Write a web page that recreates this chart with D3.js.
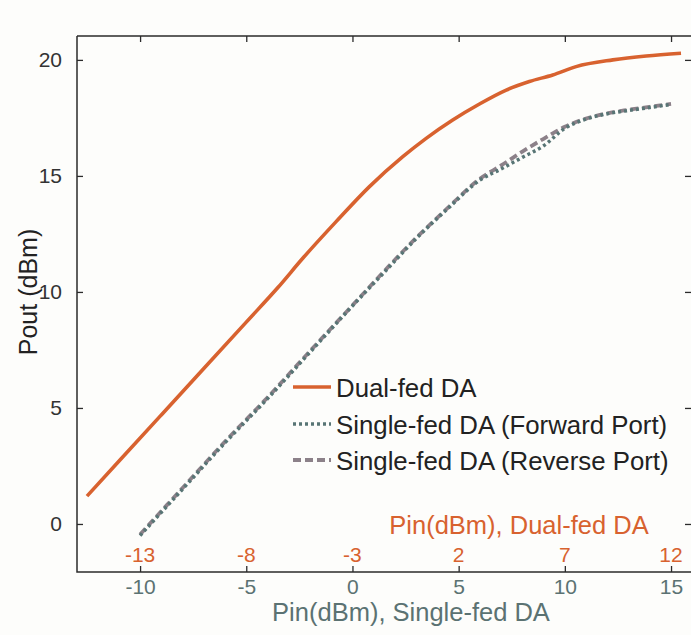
<!DOCTYPE html>
<html>
<head>
<meta charset="utf-8">
<script src="https://cdn.jsdelivr.net/npm/d3@7"></script>
<style>
  body { margin: 0; background: #fdfdfb; }
  text { font-family: "Liberation Sans", Arial, Helvetica, sans-serif; }
</style>
</head>
<body>
<div id="chart"></div>
<script>
// Pin of the dual-fed DA (top orange axis) and its Pout
const dualPin  = [-15.5, -14, -12, -10, -8, -6.5, -5.34, -3.77, -2.2, -0.63, 0.47, 1.72, 2.98, 4.24, 5.33, 6.43, 7.53, 9.26, 10.83, 12.47];
const dualPout = [1.2, 2.7, 4.7, 6.7, 8.7, 10.2, 11.45, 13.03, 14.54, 15.83, 16.62, 17.41, 18.1, 18.7, 19.07, 19.35, 19.71, 20.0, 20.17, 20.29];

// Pin of the single-fed DA (bottom axis)
const singlePin   = [-10, -8, -6, -4, -2, 0, 1.5, 3, 4.5, 6, 7, 8, 9, 10, 11, 12, 13, 14, 15];
const forwardPout = [-0.5, 1.5, 3.5, 5.4, 7.4, 9.4, 10.85, 12.3, 13.6, 14.82, 15.3, 15.8, 16.3, 17.05, 17.45, 17.68, 17.82, 17.95, 18.08];
const reversePout = [-0.45, 1.55, 3.55, 5.45, 7.45, 9.42, 10.9, 12.33, 13.63, 14.88, 15.45, 16.05, 16.6, 17.12, 17.47, 17.7, 17.85, 17.98, 18.1];

const singleTicks = [-10, -5, 0, 5, 10, 15];
const dualTicks   = [-13, -8, -3, 2, 7, 12];
const yTicks      = [0, 5, 10, 15, 20];

const legendNames = ["Dual-fed DA", "Single-fed DA (Forward Port)", "Single-fed DA (Reverse Port)"];

const W = 691, H = 635;
const box = {left: 77, right: 691, top: 36, bottom: 572};

const orange = "#d8622f";
const teal = "#587575";
const mauve = "#8c8189";
const axisCol = "#2b2b2b";

const svg = d3.select("#chart")
  .append("svg")
    .attr("width", W)
    .attr("height", H);

svg.append("rect")
  .attr("width", W)
  .attr("height", H)
  .attr("fill", "#fdfdfb");

// scales
const x = d3.scaleLinear()
  .domain([-12.97, 15.94])
  .range([box.left, box.right]);

// dual-fed Pin is the single-fed Pin shifted by 3 dB
const xDual = d3.scaleLinear()
  .domain([-15.97, 12.94])
  .range([box.left, box.right]);

const y = d3.scaleLinear()
  .domain([-2.07, 21.03])
  .range([box.bottom, box.top]);

// axes, ticks inside the box on all four sides
const tk = 6;
const plain = d => String(d); // keep the plain hyphen like the original

const bottomAxis = svg.append("g")
  .attr("transform", `translate(0,${box.bottom})`)
  .call(d3.axisBottom(x).tickValues(singleTicks).tickSize(-tk).tickFormat(plain).tickSizeOuter(0));
bottomAxis.select(".domain").remove();
bottomAxis.selectAll("text")
  .attr("dy", null)
  .attr("y", 22)
  .style("font-size", "21px")
  .attr("fill", "#5b7272");

const topAxis = svg.append("g")
  .attr("transform", `translate(0,${box.top})`)
  .call(d3.axisTop(x).tickValues(singleTicks).tickSize(-tk).tickFormat("").tickSizeOuter(0));
topAxis.select(".domain").remove();

const leftAxis = svg.append("g")
  .attr("transform", `translate(${box.left},0)`)
  .call(d3.axisLeft(y).tickValues(yTicks).tickSize(-tk).tickPadding(15).tickFormat(plain).tickSizeOuter(0));
leftAxis.select(".domain").remove();
leftAxis.selectAll("text")
  .style("font-size", "21px")
  .attr("fill", "#333");

const rightAxis = svg.append("g")
  .attr("transform", `translate(${box.right},0)`)
  .call(d3.axisRight(y).tickValues(yTicks).tickSize(-tk).tickFormat("").tickSizeOuter(0));
rightAxis.select(".domain").remove();

svg.selectAll(".tick line")
  .attr("stroke", axisCol)
  .attr("stroke-width", 1.3);

// box lines
svg.append("path")
  .attr("d", `M${box.left},${box.top}H${box.right}M${box.left},${box.top}V${box.bottom}H${box.right}`)
  .attr("fill", "none")
  .attr("stroke", axisCol)
  .attr("stroke-width", 1.5);

// orange tick labels for the dual-fed Pin, drawn inside the box
svg.append("g")
  .selectAll("text")
  .data(dualTicks)
  .enter()
  .append("text")
    .attr("x", d => xDual(d))
    .attr("y", 562)
    .attr("text-anchor", "middle")
    .style("font-size", "21px")
    .attr("fill", orange)
    .text(plain);

// axis titles
svg.append("text")
  .attr("x", 519)
  .attr("y", 534)
  .attr("text-anchor", "middle")
  .style("font-size", "25.5px")
  .attr("fill", orange)
  .text("Pin(dBm), Dual-fed DA");

svg.append("text")
  .attr("x", 411)
  .attr("y", 621)
  .attr("text-anchor", "middle")
  .style("font-size", "25.5px")
  .attr("fill", "#5b7272")
  .text("Pin(dBm), Single-fed DA");

svg.append("text")
  .attr("transform", "rotate(-90)")
  .attr("x", -292)
  .attr("y", 37)
  .attr("text-anchor", "middle")
  .style("font-size", "25px")
  .attr("fill", "#222")
  .text("Pout (dBm)");

// curves
const dualData = dualPin.map((p, i) => ({pin: p, pout: dualPout[i]}));
const fwdData = singlePin.map((p, i) => ({pin: p, pout: forwardPout[i]}));
const revData = singlePin.map((p, i) => ({pin: p, pout: reversePout[i]}));

const lineDual = d3.line()
  .x(d => xDual(d.pin))
  .y(d => y(d.pout))
  .curve(d3.curveMonotoneX);

const lineSingle = d3.line()
  .x(d => x(d.pin))
  .y(d => y(d.pout))
  .curve(d3.curveMonotoneX);

svg.append("path")
  .datum(revData)
  .attr("d", lineSingle)
  .attr("fill", "none")
  .attr("stroke", mauve)
  .attr("stroke-width", 3.8)
  .attr("stroke-dasharray", "8,4");

svg.append("path")
  .datum(fwdData)
  .attr("d", lineSingle)
  .attr("fill", "none")
  .attr("stroke", teal)
  .attr("stroke-width", 3.5)
  .attr("stroke-dasharray", "3,3");

svg.append("path")
  .datum(dualData)
  .attr("d", lineDual)
  .attr("fill", "none")
  .attr("stroke", orange)
  .attr("stroke-width", 3.6);

// legend
const legendStyles = [
  {color: orange, dash: null, width: 3.6},
  {color: teal, dash: "3,3", width: 3.5},
  {color: mauve, dash: "8,4", width: 3.8}
];
const legendRows = [387, 424, 460];

const legend = svg.append("g");
legendNames.forEach((name, i) => {
  legend.append("line")
    .attr("x1", 293)
    .attr("x2", 331)
    .attr("y1", legendRows[i])
    .attr("y2", legendRows[i])
    .attr("stroke", legendStyles[i].color)
    .attr("stroke-width", legendStyles[i].width)
    .attr("stroke-dasharray", legendStyles[i].dash);
  legend.append("text")
    .attr("x", 336)
    .attr("y", legendRows[i] + 10)
    .style("font-size", "25.8px")
    .attr("fill", "#222")
    .text(name);
});
</script>
</body>
</html>
